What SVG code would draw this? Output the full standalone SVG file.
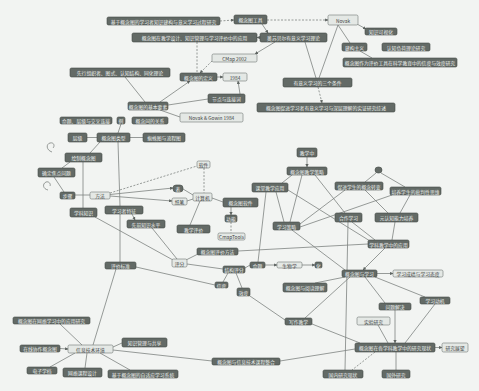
<svg xmlns="http://www.w3.org/2000/svg" width="479" height="391" viewBox="0 0 479 391">
<defs>
<style>
.bg{fill:#f2f4f2}
.d rect{fill:#636a66;stroke:#454b48;stroke-width:0.6}
.d text{fill:#eef1ef}
.l rect{fill:#e4e8e5;stroke:#6f7672;stroke-width:0.6}
.l text{fill:#3c423f}
text{font-family:"Noto Sans CJK SC","Noto Sans",sans-serif;font-size:4.8px;text-anchor:middle;dominant-baseline:central}
.e line,.e path{stroke:#7d8380;stroke-width:0.8;fill:none}
.e .da{stroke-dasharray:2 1.5}
.e .a{marker-end:url(#ah)}
</style>
<marker id="ah" viewBox="0 0 6 6" refX="5.5" refY="3" markerWidth="4" markerHeight="4" orient="auto"><path d="M0,0 L6,3 L0,6 z" fill="#5d6360"/></marker>
</defs>
<rect class="bg" x="0" y="0" width="479" height="391"/>
<g id="edges" class="e">
<line class="da a" x1="220" y1="21" x2="234" y2="20"/>
<line class="da a" x1="267" y1="20" x2="328" y2="20"/>
<line class="a" x1="262" y1="24" x2="268" y2="33"/>
<line class="a" x1="260" y1="37.5" x2="257" y2="37.5"/>
<line class="da" x1="197" y1="42" x2="197" y2="73"/>
<line class="da a" x1="212" y1="61" x2="200" y2="73"/>
<line class="a" x1="275" y1="42" x2="255" y2="54"/>
<line class="a" x1="357" y1="24" x2="366" y2="29"/>
<line x1="338" y1="25" x2="350" y2="43"/>
<line x1="360" y1="51" x2="372" y2="58"/>
<line x1="305" y1="42" x2="316" y2="78"/>
<line x1="338" y1="25" x2="319" y2="78"/>
<line class="da a" x1="318" y1="87" x2="322" y2="103"/>
<line class="a" x1="217" y1="77" x2="223" y2="77"/>
<line class="a" x1="240" y1="94" x2="238" y2="81"/>
<line x1="208" y1="99" x2="168" y2="105"/>
<line class="a" x1="160" y1="102" x2="190" y2="81"/>
<line x1="125" y1="77" x2="145" y2="102"/>
<line x1="160" y1="110" x2="180" y2="117"/>
<line x1="87" y1="137.5" x2="97" y2="137.5"/>
<line x1="130" y1="137.5" x2="143" y2="137.5"/>
<line x1="121" y1="124" x2="118" y2="133"/>
<line x1="118" y1="142" x2="120" y2="206"/>
<line x1="83" y1="162" x2="83" y2="208"/>
<line x1="100" y1="142" x2="90" y2="153"/>
<line x1="70" y1="162" x2="62" y2="168"/>
<line x1="54" y1="177" x2="64" y2="192"/>
<line x1="75" y1="195" x2="90" y2="195"/>
<line class="da" x1="110" y1="193" x2="197" y2="166"/>
<line class="a" x1="110" y1="194.5" x2="173" y2="188"/>
<line class="a" x1="110" y1="196" x2="172" y2="201"/>
<line x1="183" y1="189" x2="193" y2="195"/>
<line x1="187" y1="201" x2="193" y2="199"/>
<line class="da" x1="204" y1="168" x2="204" y2="193"/>
<line x1="212" y1="198" x2="223" y2="202"/>
<line x1="200" y1="201" x2="190" y2="225"/>
<line class="a" x1="231" y1="207" x2="231" y2="215"/>
<line class="da" x1="231" y1="222" x2="231" y2="233"/>
<line class="a" x1="132" y1="214" x2="135" y2="220"/>
<line x1="152" y1="228" x2="177" y2="259"/>
<line x1="95" y1="217" x2="173" y2="260"/>
<line x1="198" y1="254" x2="186" y2="260"/>
<line x1="238" y1="251" x2="368" y2="244"/>
<line x1="120" y1="214" x2="120" y2="262"/>
<line x1="136" y1="267" x2="215" y2="285"/>
<line x1="116" y1="269" x2="93" y2="345"/>
<line x1="187" y1="264" x2="223" y2="269"/>
<line x1="245" y1="268" x2="250" y2="265"/>
<line x1="266" y1="192" x2="258" y2="262"/>
<line x1="236" y1="273" x2="242" y2="288"/>
<line x1="228" y1="273" x2="223" y2="282"/>
<line x1="247" y1="294" x2="285" y2="320"/>
<line class="a" x1="265" y1="265" x2="277" y2="265"/>
<line class="a" x1="302" y1="265" x2="315" y2="265"/>
<line class="a" x1="307" y1="157" x2="307" y2="167"/>
<line x1="292" y1="175" x2="282" y2="183"/>
<line x1="276" y1="192" x2="284" y2="222"/>
<line x1="302" y1="175" x2="290" y2="222"/>
<line x1="315" y1="175" x2="345" y2="213"/>
<line x1="288" y1="190" x2="370" y2="241"/>
<line x1="345" y1="190" x2="300" y2="224"/>
<line x1="392" y1="195" x2="300" y2="227"/>
<line x1="376" y1="173" x2="365" y2="182"/>
<line x1="381" y1="173" x2="405" y2="187"/>
<line x1="365" y1="190" x2="388" y2="213"/>
<line x1="410" y1="195" x2="400" y2="213"/>
<line x1="352" y1="222" x2="375" y2="240"/>
<line x1="395" y1="222" x2="392" y2="240"/>
<line class="a" x1="385" y1="248" x2="363" y2="270"/>
<line x1="348" y1="222" x2="345" y2="370"/>
<line x1="292" y1="230" x2="345" y2="270"/>
<line class="a" x1="377" y1="273.5" x2="393" y2="273.5"/>
<line x1="345" y1="277" x2="315" y2="283"/>
<line x1="350" y1="277" x2="305" y2="318"/>
<line x1="365" y1="277" x2="385" y2="303"/>
<line x1="375" y1="277" x2="425" y2="297"/>
<line x1="435" y1="304" x2="405" y2="343"/>
<line class="a" x1="395" y1="310" x2="395" y2="343"/>
<line x1="378" y1="325" x2="388" y2="343"/>
<line x1="312" y1="324" x2="360" y2="343"/>
<line class="a" x1="435" y1="347.5" x2="442" y2="347.5"/>
<line x1="396" y1="352" x2="396" y2="370"/>
<line class="da" x1="375" y1="352" x2="352" y2="370"/>
<line x1="355" y1="349" x2="280" y2="361"/>
<line x1="113" y1="350" x2="212" y2="361"/>
<line x1="60" y1="324" x2="82" y2="345"/>
<line class="a" x1="60" y1="348.5" x2="68" y2="349"/>
<line x1="113" y1="347" x2="122" y2="343"/>
<line x1="50" y1="367" x2="75" y2="353"/>
<line x1="85" y1="368" x2="87" y2="353"/>
<line x1="130" y1="370" x2="100" y2="353"/>
<path d="M52,152 C46,150 46,144 50,143 C54,142 55,146 53,148"/>
<path d="M48,190 C43,189 42,184 46,182 C49,181 51,184 50,186"/>
</g>
<g id="n1" class="d"><rect x="107" y="17" width="113" height="8" rx="1.5"/><text x="163.5" y="21">基于概念图的学习者知识建构与意义学习过程研究</text></g>
<g id="n2" class="d"><rect x="234" y="15" width="33" height="9" rx="1.5"/><text x="250.5" y="19.5">概念图工具</text></g>
<g id="n3" class="d"><rect x="132" y="33" width="125" height="9" rx="1.5"/><text x="194.5" y="37.5">概念图在教学设计、知识管理与学习评价中的应用</text></g>
<g id="n4" class="l"><rect x="212" y="54" width="45" height="8" rx="1.5"/><text x="234.5" y="58">CMap 2002</text></g>
<g id="n5" class="d"><rect x="260" y="33" width="67" height="9" rx="1.5"/><text x="293.5" y="37.5">奥苏贝尔有意义学习理论</text></g>
<g id="n6" class="l"><rect x="328" y="15" width="30" height="10" rx="1.5"/><text x="343" y="20">Novak</text></g>
<g id="n7" class="d"><rect x="365" y="28" width="32" height="7" rx="1.5"/><text x="381" y="31.5">知识可视化</text></g>
<g id="n8" class="d"><rect x="342" y="43" width="25" height="8" rx="1.5"/><text x="354.5" y="47">建构主义</text></g>
<g id="n9" class="d"><rect x="382" y="43" width="48" height="8" rx="1.5"/><text x="406" y="47">认知负荷理论研究</text></g>
<g id="n10" class="d"><rect x="343" y="58" width="114" height="9" rx="1.5"/><text x="400" y="62.5">概念图作为评价工具在科学教育中的信度与效度研究</text></g>
<g id="n11" class="d"><rect x="70" y="68" width="100" height="9" rx="1.5"/><text x="120" y="72.5">先行组织者、图式、认知结构、同化理论</text></g>
<g id="n12" class="d"><rect x="180" y="73" width="37" height="8" rx="1.5"/><text x="198.5" y="77">概念图的定义</text></g>
<g id="n13" class="l"><rect x="223" y="73" width="24" height="8" rx="1.5"/><text x="235" y="77">1984</text></g>
<g id="n14" class="d"><rect x="208" y="94" width="37" height="9" rx="1.5"/><text x="226.5" y="98.5">节点与连接词</text></g>
<g id="n15" class="d"><rect x="128" y="102" width="40" height="8" rx="1.5"/><text x="148" y="106">概念图的基本要素</text></g>
<g id="n16" class="l"><rect x="180" y="113" width="63" height="9" rx="1.5"/><text x="211.5" y="117.5">Novak &amp; Gowin 1984</text></g>
<g id="n17" class="d"><rect x="60" y="117" width="52" height="7" rx="1.5"/><text x="86" y="120.5">命题、层级与交叉连接</text></g>
<g id="n18" class="d"><rect x="117" y="117" width="8" height="7" rx="1.5"/><text x="121" y="120.5">例</text></g>
<g id="n19" class="d"><rect x="132" y="117" width="36" height="7" rx="1.5"/><text x="150" y="120.5">概念间的关系</text></g>
<g id="n21" class="d"><rect x="283" y="78" width="69" height="9" rx="1.5"/><text x="317.5" y="82.5">有意义学习的三个条件</text></g>
<g id="n22" class="d"><rect x="257" y="103" width="138" height="9" rx="1.5"/><text x="326" y="107.5">概念图促进学习者有意义学习与深层理解的实证研究综述</text></g>
<g id="n23" class="d"><rect x="68" y="133" width="19" height="9" rx="1.5"/><text x="77.5" y="137.5">层级</text></g>
<g id="n24" class="d"><rect x="97" y="133" width="33" height="9" rx="1.5"/><text x="113.5" y="137.5">概念图类型</text></g>
<g id="n25" class="d"><rect x="143" y="133" width="42" height="9" rx="1.5"/><text x="164" y="137.5">蜘蛛图与流程图</text></g>
<g id="n26" class="d"><rect x="65" y="153" width="37" height="9" rx="1.5"/><text x="83.5" y="157.5">绘制概念图</text></g>
<g id="n27" class="d"><rect x="38" y="168" width="37" height="9" rx="1.5"/><text x="56.5" y="172.5">确定焦点问题</text></g>
<g id="n28" class="d"><rect x="60" y="192" width="15" height="7" rx="1.5"/><text x="67.5" y="195.5">步骤</text></g>
<g id="n29" class="l"><rect x="90" y="192" width="20" height="7" rx="1.5"/><text x="100" y="195.5">方法</text></g>
<g id="n30" class="l"><rect x="197" y="161" width="13" height="7" rx="1.5"/><text x="203.5" y="164.5">软件</text></g>
<g id="n31" class="d"><rect x="173" y="185" width="10" height="7" rx="3"/><text x="178" y="188.5">表</text></g>
<g id="n32" class="l"><rect x="172" y="198" width="15" height="7" rx="1.5"/><text x="179.5" y="201.5">纸笔</text></g>
<g id="n33" class="l"><rect x="193" y="193" width="19" height="8" rx="1.5"/><text x="202.5" y="197">计算机</text></g>
<g id="n34" class="d"><rect x="297" y="148" width="20" height="9" rx="1.5"/><text x="307" y="152.5">教学中</text></g>
<g id="n35" class="d"><rect x="287" y="167" width="40" height="8" rx="1.5"/><text x="307" y="171">概念图教学策略</text></g>
<g id="n36" class="d"><rect x="252" y="183" width="36" height="9" rx="1.5"/><text x="270" y="187.5">课堂教学应用</text></g>
<g id="n37" class="d"><rect x="223" y="198" width="35" height="9" rx="1.5"/><text x="240.5" y="202.5">概念图软件</text></g>
<g id="n38" class="d"><rect x="225" y="215" width="12" height="7" rx="1.5"/><text x="231" y="218.5">功能</text></g>
<g id="n39" class="l"><rect x="218" y="233" width="27" height="7" rx="1.5"/><text x="231.5" y="236.5">CmapTools</text></g>
<g id="n40" class="d"><rect x="273" y="222" width="27" height="8" rx="1.5"/><text x="286.5" y="226">学习策略</text></g>
<g id="n41" class="d"><rect x="177" y="225" width="33" height="8" rx="1.5"/><text x="193.5" y="229">教学评价</text></g>
<g id="n44" class="d"><rect x="375" y="167" width="7" height="6" rx="3"/></g>
<g id="n45" class="d"><rect x="335" y="182" width="48" height="8" rx="1.5"/><text x="359" y="186">促进学生的概念转变</text></g>
<g id="n46" class="d"><rect x="390" y="187" width="51" height="8" rx="1.5"/><text x="415.5" y="191">培养学生的批判性思维</text></g>
<g id="n47" class="d"><rect x="335" y="213" width="27" height="9" rx="1.5"/><text x="348.5" y="217.5">合作学习</text></g>
<g id="n48" class="d"><rect x="375" y="213" width="43" height="9" rx="1.5"/><text x="396.5" y="217.5">元认知能力培养</text></g>
<g id="nA" class="d"><rect x="105" y="206" width="38" height="8" rx="1.5"/><text x="124" y="210">学习者特征</text></g>
<g id="nB" class="d"><rect x="70" y="208" width="27" height="9" rx="1.5"/><text x="83.5" y="212.5">学科知识</text></g>
<g id="nC" class="d"><rect x="127" y="220" width="38" height="8" rx="1.5"/><text x="146" y="224">先前知识水平</text></g>
<g id="n54" class="d"><rect x="197" y="248" width="41" height="7" rx="1.5"/><text x="217.5" y="251.5">概念图评价方法</text></g>
<g id="n55" class="l"><rect x="172" y="259" width="15" height="8" rx="1.5"/><text x="179.5" y="263">评分</text></g>
<g id="n56" class="d"><rect x="223" y="266" width="22" height="7" rx="1.5"/><text x="234" y="269.5">结构评分</text></g>
<g id="n57" class="d"><rect x="250" y="262" width="15" height="6" rx="1.5"/><text x="257.5" y="265">命题</text></g>
<g id="n58" class="d"><rect x="105" y="262" width="31" height="7" rx="1.5"/><text x="120.5" y="265.5">评价标准</text></g>
<g id="n59" class="d"><rect x="215" y="282" width="13" height="6" rx="1.5"/><text x="221.5" y="285">信度</text></g>
<g id="n60" class="d"><rect x="237" y="288" width="13" height="8" rx="1.5"/><text x="243.5" y="292">效度</text></g>
<g id="n61" class="d"><rect x="368" y="240" width="41" height="8" rx="1.5"/><text x="388.5" y="244">学科教学中的应用</text></g>
<g id="n63" class="l"><rect x="277" y="262" width="25" height="6" rx="1.5"/><text x="289.5" y="265">生物学</text></g>
<g id="n64" class="d"><rect x="315" y="262" width="7" height="6" rx="1.5"/><text x="318.5" y="265">化</text></g>
<g id="n65" class="d"><rect x="342" y="270" width="35" height="7" rx="1.5"/><text x="359.5" y="273.5">概念图与学习</text></g>
<g id="n66" class="l"><rect x="393" y="270" width="50" height="7" rx="1.5"/><text x="418" y="273.5">学习成绩与学习态度</text></g>
<g id="n67" class="d"><rect x="283" y="283" width="44" height="9" rx="1.5"/><text x="305" y="287.5">概念图与阅读理解</text></g>
<g id="n68" class="d"><rect x="420" y="297" width="30" height="7" rx="1.5"/><text x="435" y="300.5">学习动机</text></g>
<g id="n69" class="d"><rect x="379" y="303" width="32" height="7" rx="1.5"/><text x="395" y="306.5">问题解决</text></g>
<g id="n80" class="d"><rect x="285" y="318" width="27" height="7" rx="1.5"/><text x="298.5" y="321.5">写作教学</text></g>
<g id="n83" class="l"><rect x="357" y="317" width="33" height="8" rx="1.5"/><text x="373.5" y="321">实验研究</text></g>
<g id="n84" class="d"><rect x="355" y="343" width="80" height="9" rx="1.5"/><text x="395" y="347.5">概念图在各学科教学中的研究现状</text></g>
<g id="n85" class="l"><rect x="442" y="343" width="26" height="9" rx="1.5"/><text x="455" y="347.5">研究展望</text></g>
<g id="n86" class="d"><rect x="323" y="370" width="40" height="8" rx="1.5"/><text x="343" y="374">国内研究现状</text></g>
<g id="n87" class="d"><rect x="382" y="370" width="28" height="8" rx="1.5"/><text x="396" y="374">国外研究</text></g>
<g id="n71" class="d"><rect x="13" y="317" width="77" height="7" rx="1.5"/><text x="51.5" y="320.5">概念图在网络学习中的应用研究</text></g>
<g id="n72" class="d"><rect x="20" y="345" width="40" height="7" rx="1.5"/><text x="40" y="348.5">在线协作概念图</text></g>
<g id="n73" class="l"><rect x="68" y="345" width="45" height="8" rx="1.5"/><text x="90.5" y="349">信息技术环境</text></g>
<g id="n74" class="d"><rect x="122" y="338" width="45" height="9" rx="1.5"/><text x="144.5" y="342.5">知识管理与共享</text></g>
<g id="n75" class="d"><rect x="27" y="367" width="30" height="7" rx="1.5"/><text x="42" y="370.5">电子学档</text></g>
<g id="n76" class="d"><rect x="63" y="368" width="39" height="9" rx="1.5"/><text x="82.5" y="372.5">网络课程设计</text></g>
<g id="n77" class="d"><rect x="108" y="370" width="70" height="8" rx="1.5"/><text x="143" y="374">基于概念图的自适应学习系统</text></g>
<g id="n78" class="d"><rect x="212" y="358" width="68" height="7" rx="1.5"/><text x="246" y="361.5">概念图与信息技术课程整合</text></g>
</svg>
